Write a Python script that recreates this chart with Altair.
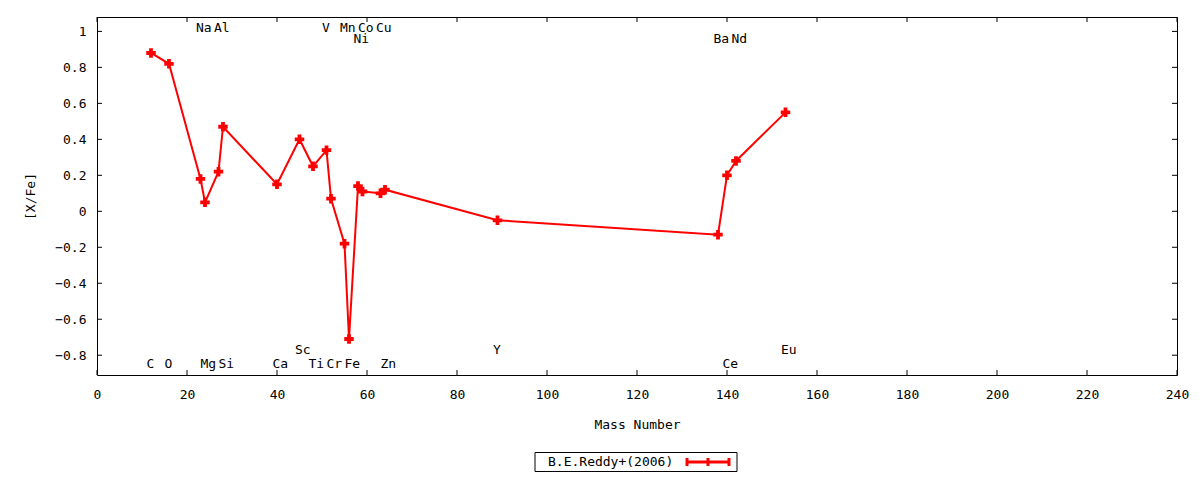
import altair as alt
import pandas as pd

elements = ["C", "O", "Na", "Mg", "Al", "Si", "Ca", "Sc", "Ti", "V", "Cr", "Mn",
            "Fe", "Ni", "Co", "Cu", "Zn", "Y", "Ba", "Ce", "Nd", "Eu"]
mass = [12, 16, 23, 24, 27, 28, 40, 45, 48, 51, 52, 55, 56, 58, 59, 63, 64,
        89, 138, 140, 142, 153]
xfe = [0.88, 0.82, 0.18, 0.05, 0.22, 0.47, 0.15, 0.40, 0.25, 0.34, 0.07, -0.18,
       -0.71, 0.14, 0.11, 0.10, 0.12, -0.05, -0.13, 0.20, 0.28, 0.55]
# label row of each element name (gnuplot-style annotation rows)
label_row = ["b1", "b1", "t1", "b1", "t1", "b1", "b1", "b2", "b1", "t1", "b1", "t1",
             "b1", "t2", "t1", "t1", "b1", "b2", "t2", "b1", "t2", "b2"]
row_names = ["t1", "t2", "b2", "b1"]
row_levels = [1.02, 0.96, -0.77, -0.85]

x_ticks = list(range(0, 241, 20))
y_ticks = [-0.8, -0.6, -0.4, -0.2, 0.0, 0.2, 0.4, 0.6, 0.8, 1.0]
x_domain = [0, 240]
y_domain = [-0.91, 1.08]
series_name = "B.E.Reddy+(2006)"

df = pd.DataFrame({"element": elements, "mass": mass, "xfe": xfe, "row": label_row})
row_map = dict(zip(row_names, row_levels))
df["label_y"] = df["row"].map(row_map)

W, H = 1080, 358
FONT = "DejaVu Sans Mono"
RED = "#ff0000"

xs = alt.Scale(domain=x_domain, nice=False, zero=False)
ys = alt.Scale(domain=y_domain, nice=False, zero=False)

x_axis = alt.Axis(values=x_ticks, tickSize=0, labelPadding=13, grid=False,
                  domain=False, title="Mass Number", titlePadding=17,
                  labelFont=FONT, titleFont=FONT, labelFontSize=13, titleFontSize=13,
                  titleFontWeight="normal", labelColor="black", titleColor="black",
                  labelFlush=False, labelOverlap=False)
y_axis = alt.Axis(values=y_ticks, tickSize=0, labelPadding=11, grid=False,
                  domain=False, title="[X/Fe]", titlePadding=17,
                  labelFont=FONT, titleFont=FONT, labelFontSize=13, titleFontSize=13,
                  titleFontWeight="normal", labelColor="black", titleColor="black",
                  labelFlush=False, labelOverlap=False, format="~g")


def X(field):
    return alt.X(field, scale=xs, axis=x_axis)


def Y(field):
    return alt.Y(field, scale=ys, axis=y_axis)


base = alt.Chart(df)

line = base.mark_line(color=RED, strokeWidth=2, clip=True).encode(
    x=X("mass:Q"), y=Y("xfe:Q"), order="mass:Q",
)
pts = base.mark_point(shape="cross", filled=True, color=RED, size=90, opacity=1).encode(
    x=X("mass:Q"), y=Y("xfe:Q"),
)
labels = base.mark_text(font=FONT, fontSize=13, align="left", baseline="middle",
                        dx=-4.5, color="black").encode(
    x=X("mass:Q"), y=Y("label_y:Q"), text="element:N",
)

xt = pd.DataFrame({"t": x_ticks})
yt = pd.DataFrame({"t": y_ticks})
TL = 5
xtick_bot = alt.Chart(xt).mark_rule(color="black", strokeWidth=1).encode(
    x=X("t:Q"), y=alt.value(H), y2=alt.value(H - TL))
xtick_top = alt.Chart(xt).mark_rule(color="black", strokeWidth=1).encode(
    x=X("t:Q"), y=alt.value(0), y2=alt.value(TL))
ytick_l = alt.Chart(yt).mark_rule(color="black", strokeWidth=1).encode(
    y=Y("t:Q"), x=alt.value(0), x2=alt.value(TL))
ytick_r = alt.Chart(yt).mark_rule(color="black", strokeWidth=1).encode(
    y=Y("t:Q"), x=alt.value(W), x2=alt.value(W - TL))

# manual legend box below the plot
leg = pd.DataFrame({"name": [series_name]})
LX0, LX1 = 438, 640
LY = H + 87
leg_box = alt.Chart(leg).mark_rect(fill="white", stroke="black", strokeWidth=1).encode(
    x=alt.value(LX0), x2=alt.value(LX1), y=alt.value(LY - 9.5), y2=alt.value(LY + 9.5))
leg_text = alt.Chart(leg).mark_text(font=FONT, fontSize=13, align="left",
                                    baseline="middle", color="black").encode(
    x=alt.value(LX0 + 13), y=alt.value(LY), text="name:N")
leg_line = alt.Chart(leg).mark_rule(color=RED, strokeWidth=3).encode(
    x=alt.value(LX1 - 50), x2=alt.value(LX1 - 8), y=alt.value(LY))
leg_caps = [
    alt.Chart(leg).mark_rule(color=RED, strokeWidth=3).encode(
        x=alt.value(px), y=alt.value(LY - 4), y2=alt.value(LY + 4))
    for px in (LX1 - 50, LX1 - 29, LX1 - 8)
]

chart = alt.layer(
    line, pts, labels, xtick_bot, xtick_top, ytick_l, ytick_r,
    leg_box, leg_text, leg_line, *leg_caps
).properties(
    width=W, height=H,
    autosize=alt.AutoSizeParams(type="none"),
    padding={"left": 89, "top": 9, "right": 15, "bottom": 97},
    background="white",
).configure_view(stroke="black", strokeWidth=1)

chart.save("out.html", embed_options={"renderer": "svg", "actions": False})
